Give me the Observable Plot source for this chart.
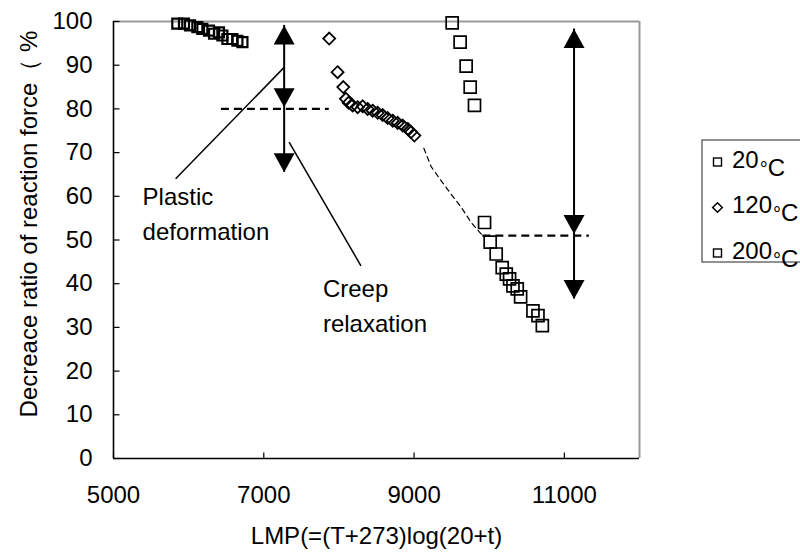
<!DOCTYPE html>
<html><head><meta charset="utf-8">
<script src="https://cdn.jsdelivr.net/npm/d3@7"></script>
<script src="https://cdn.jsdelivr.net/npm/@observablehq/plot@0.6"></script>
<style>
html,body{margin:0;padding:0;background:#fff;overflow:hidden;}
</style></head><body><div id="chart"></div>
<script>
// ---- data ----
const lmp20   = [5849, 5938, 6018, 6116, 6182, 6271, 6338, 6404, 6449, 6516, 6582, 6649, 6716];
const ratio20 = [99.5, 99.5, 99.1, 98.7, 98.3, 97.9, 97.2, 97.5, 96.8, 96.0, 96.0, 95.6, 95.3];
const lmp120   = [7871, 7982, 8058, 8093, 8129, 8182, 8249, 8316, 8382, 8449, 8516, 8582, 8649, 8716, 8782, 8849, 8916, 8960, 9004];
const ratio120 = [96.1, 88.4, 85.0, 82.3, 81.4, 80.8, 80.4, 80.6, 80.0, 79.6, 79.1, 78.6, 77.9, 77.3, 76.8, 76.2, 75.4, 74.7, 73.9];
const lmp200   = [9507, 9613, 9693, 9747, 9804, 9938, 10013, 10093, 10173, 10227, 10271, 10316, 10373, 10418, 10582, 10649, 10707];
const ratio200 = [99.7, 95.3, 89.8, 85.0, 80.8, 54.0, 49.5, 46.8, 43.7, 42.2, 41.1, 39.5, 38.8, 37.0, 33.8, 32.7, 30.4];
const trendLmp   = [9130, 9227, 9360, 9493, 9627, 9760, 9871, 9915];
const trendRatio = [71.0, 66.8, 63.6, 60.5, 57.5, 54.0, 51.8, 51.0];
const levelY  = [80, 51];
const levelX1 = [6436, 9915];
const levelX2 = [7871, 11333];
const arrowX    = [7271, 11129];
const arrowTop  = [99.1, 98.3];
const arrowMid  = [80.4, 51.4];
const arrowBot  = [65.5, 36.5];
const leaderX1 = [7271, 7337], leaderY1 = [89.5, 72.4];
const leaderX2 = [5827, 8293], leaderY2 = [64.0, 44.1];
const noteText = ["Plastic\ndeformation", "Creep\nrelaxation"];
const noteX = [5387, 7787];
const noteY = [56.6, 35.5];
const xTicks = [5000, 7000, 9000, 11000];
const yTicks = [0, 10, 20, 30, 40, 50, 60, 70, 80, 90, 100];
const xTitle = "LMP(=(T+273)log(20+t)";
const yTitle = "Decreace ratio of reaction force（ %";
const legendNames = ["20", "120", "200"];
const legendSymbols = ["square", "diamond", "square"];

// ---- build tables ----
const s20 = lmp20.map((x, i) => ({x, y: ratio20[i]}));
const s120 = lmp120.map((x, i) => ({x, y: ratio120[i]}));
const s200 = lmp200.map((x, i) => ({x, y: ratio200[i]}));
const trend = trendLmp.map((x, i) => ({x, y: trendRatio[i]}));
const levels = levelY.map((y, i) => ({y, x1: levelX1[i], x2: levelX2[i]}));
const shafts = arrowX.map((x, i) => ({x, y1: arrowTop[i], y2: arrowBot[i]}));
const headsUp = arrowX.map((x, i) => ({x, y: arrowTop[i]}));
const headsDown = arrowX.flatMap((x, i) => [{x, y: arrowMid[i]}, {x, y: arrowBot[i]}]);
const leaders = leaderX1.map((x1, i) => ({x1, y1: leaderY1[i], x2: leaderX2[i], y2: leaderY2[i]}));
const notes = noteText.map((t, i) => ({t, x: noteX[i], y: noteY[i]}));

const tickUp = {draw(c) { c.moveTo(0, 0); c.lineTo(0, -6); }};
const tickRight = {draw(c) { c.moveTo(0, 0); c.lineTo(6, 0); }};
const headUp = {draw(c) { c.moveTo(0, 0); c.lineTo(10.5, 19); c.lineTo(-10.5, 19); c.closePath(); }};
const headDown = {draw(c) { c.moveTo(0, 0); c.lineTo(10.5, -19); c.lineTo(-10.5, -19); c.closePath(); }};

const FONT = "'Liberation Sans', Arial, Helvetica, sans-serif";

const chart = Plot.plot({
  width: 800, height: 554,
  marginLeft: 113, marginRight: 161, marginTop: 21, marginBottom: 96,
  style: {fontSize: "24px", fontFamily: FONT, color: "black", background: "white"},
  x: {domain: [5000, 12000]},
  y: {domain: [0, 100]},
  marks: [
    Plot.ruleY([100], {stroke: "#9a9a9a", strokeWidth: 2}),
    Plot.ruleX([12000], {stroke: "#9a9a9a", strokeWidth: 2}),
    Plot.ruleX([5000], {stroke: "black", strokeWidth: 1.6}),
    Plot.ruleY([0], {stroke: "black", strokeWidth: 1.6}),
    Plot.dot(xTicks, {x: d => d, y: () => 0, symbol: tickUp, stroke: "black", fill: "none", strokeWidth: 1.2}),
    Plot.dot(yTicks, {x: () => 5000, y: d => d, symbol: tickRight, stroke: "black", fill: "none", strokeWidth: 1.2}),
    Plot.axisX({ticks: xTicks, tickSize: 0, tickPadding: 27, tickFormat: "d", label: null}),
    Plot.axisY({ticks: yTicks, tickSize: 0, tickPadding: 21, tickFormat: "d", label: null}),
    Plot.text([xTitle], {frameAnchor: "bottom", textAnchor: "middle", lineAnchor: "middle", dy: 78, fontSize: 24, fill: "black"}),
    Plot.text([yTitle], {frameAnchor: "left", textAnchor: "middle", lineAnchor: "middle", rotate: -90, dx: -84, dy: -16, fontSize: 24, fill: "black"}),
    // guides
    Plot.ruleY(levels, {y: "y", x1: "x1", x2: "x2", stroke: "black", strokeWidth: 2.2, strokeDasharray: "8,5"}),
    Plot.line(trend, {x: "x", y: "y", stroke: "black", strokeWidth: 1.2, strokeDasharray: "5,4"}),
    Plot.ruleX(shafts, {x: "x", y1: "y1", y2: "y2", stroke: "black", strokeWidth: 2}),
    Plot.dot(headsUp, {x: "x", y: "y", symbol: headUp, fill: "black", stroke: "none"}),
    Plot.dot(headsDown, {x: "x", y: "y", symbol: headDown, fill: "black", stroke: "none"}),
    Plot.link(leaders, {x1: "x1", y1: "y1", x2: "x2", y2: "y2", stroke: "black", strokeWidth: 1.5}),
    Plot.text(notes, {x: "x", y: "y", text: "t", textAnchor: "start", lineHeight: 1.46, fontSize: 24, fill: "black"}),
    // series
    Plot.dot(s20, {x: "x", y: "y", symbol: "square", r: 5.64, fill: "none", stroke: "black", strokeWidth: 2.2}),
    Plot.dot(s120, {x: "x", y: "y", symbol: "diamond2", r: 5.4, fill: "none", stroke: "black", strokeWidth: 1.8}),
    Plot.dot(s200, {x: "x", y: "y", symbol: "square", r: 6.77, fill: "none", stroke: "black", strokeWidth: 1.7})
  ]
});
document.getElementById("chart").appendChild(chart);

// ---- legend (to the right of the plot frame) ----
const svg = d3.select(chart);
const lg = svg.append("g").attr("font-family", FONT).attr("font-size", 24).attr("fill", "black")
  .attr("text-anchor", "start");
lg.append("rect").attr("x", 702).attr("y", 140).attr("width", 130).attr("height", 122)
  .attr("fill", "white").attr("stroke", "#222").attr("stroke-width", 1);
legendNames.forEach((name, i) => {
  const cy = 162 + i * 45.5;
  if (legendSymbols[i] === "square") {
    lg.append("rect").attr("x", 713.5).attr("y", cy - 4).attr("width", 8).attr("height", 8)
      .attr("fill", "none").attr("stroke", "black").attr("stroke-width", 1.4);
  } else {
    lg.append("path").attr("d", `M717.5,${cy - 4.8}L722.3,${cy}L717.5,${cy + 4.8}L712.7,${cy}Z`)
      .attr("fill", "none").attr("stroke", "black").attr("stroke-width", 1.5);
  }
  const t = lg.append("text").attr("x", 732).attr("y", cy + 5.5).attr("text-anchor", "start");
  t.append("tspan").text(name);
  t.append("tspan").attr("dy", 8).attr("font-size", 20).attr("dx", 1).text("°");
  t.append("tspan").text("C");
});
</script>
</body></html>
